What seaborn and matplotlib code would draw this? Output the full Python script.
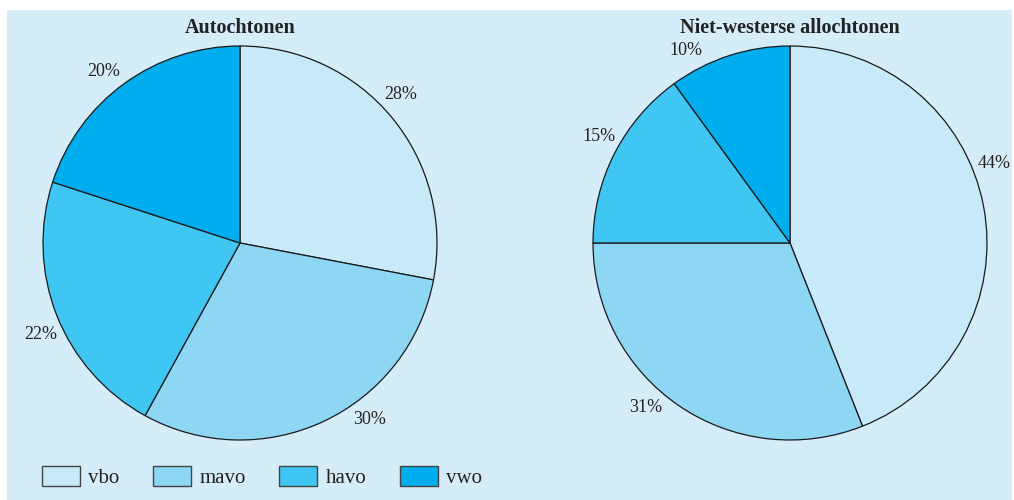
import matplotlib
matplotlib.use("Agg")
import matplotlib.pyplot as plt
import seaborn as sns
import numpy as np
from matplotlib.patches import Rectangle, Patch

# Data
categories = ["vbo", "mavo", "havo", "vwo"]
autochtonen = [28, 30, 22, 20]
niet_westers = [44, 31, 15, 10]
titles = ["Autochtonen", "Niet-westerse allochtonen"]

# label nudges along the circle (degrees, clockwise) to match the original placement
nudges = [[-3, -11, -3, -2.5], [-10.5, 7, 2, -10.5]]

sns.set_theme(style="white")
plt.rcParams["font.family"] = ["Liberation Serif", "DejaVu Serif"]

colors = sns.color_palette(["#c8e9f8", "#8dd7f5", "#40c6f2", "#00adee"])
bg = "#d5ecf9"

fig = plt.figure(figsize=(10.14, 5.0), dpi=100, facecolor="white")
fig.patches.append(Rectangle((7 / 1014, 0), 1005 / 1014, 490 / 500,
                             transform=fig.transFigure, facecolor=bg,
                             edgecolor="none", zorder=-10))

boxes = [[43 / 1014, 0.12, 394 / 1014, 0.788],
         [593 / 1014, 0.12, 394 / 1014, 0.788]]

for box, vals, title, nudge in zip(boxes, [autochtonen, niet_westers], titles, nudges):
    ax = fig.add_axes(box)
    ax.set_facecolor("none")
    wedges, texts, autotexts = ax.pie(
        vals, colors=colors, startangle=90, counterclock=False,
        autopct="%d%%", pctdistance=1.11,
        wedgeprops=dict(edgecolor="#1a1a1a", linewidth=0.9),
        textprops=dict(fontsize=13, color="#222222"))
    for w, t, dn in zip(wedges, autotexts, nudge):
        mid = np.deg2rad((w.theta1 + w.theta2) / 2 - dn)
        t.set_position((1.11 * np.cos(mid), 1.11 * np.sin(mid)))
    ax.set_xlim(-1, 1)
    ax.set_ylim(-1, 1)
    ax.set_aspect("equal")
    ax.axis("off")
    cx = box[0] + box[2] / 2
    fig.text(cx, 1 - 28 / 500, title, ha="center", va="center",
             fontsize=14.5, fontweight="bold", color="#222222")

handles = [Patch(facecolor=c, edgecolor="#444444", linewidth=1.0) for c in colors]
fig.legend(handles, categories, loc="center left",
           bbox_to_anchor=(23 / 1014, 1 - 477 / 500), ncol=4, frameon=False,
           fontsize=15, handlelength=1.83, handleheight=1.15,
           handletextpad=0.4, columnspacing=1.6, labelcolor="#222222")

fig.savefig("out.png", dpi=100, facecolor="white")
